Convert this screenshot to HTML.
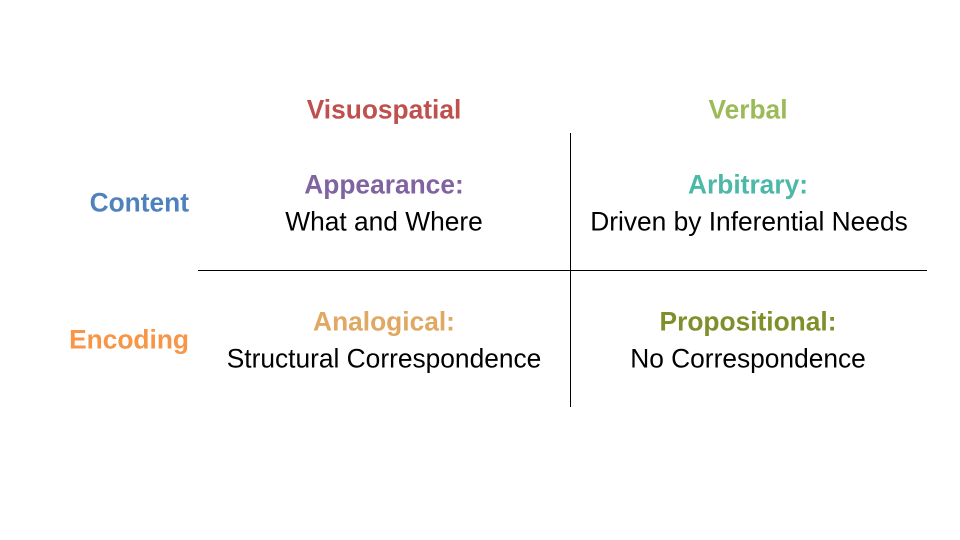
<!DOCTYPE html>
<html><head><meta charset="utf-8"><style>
body{margin:0;width:960px;height:540px;background:#fff;position:relative;overflow:hidden;font-family:"Liberation Sans",sans-serif;}
.t{position:absolute;white-space:nowrap;transform:translate(-50%,-50%) scaleX(0.975);font-size:27px;line-height:1;}
.b{font-weight:bold;}
.r{transform:translate(-100%,-50%) scaleX(0.975);transform-origin:100% 50%;}
.l{position:absolute;background:#000;}
</style></head><body>
<div class="t b" style="left:384px;top:110px;color:#C0504D">Visuospatial</div>
<div class="t b" style="left:748px;top:110px;color:#9BBB59">Verbal</div>
<div class="t b r" style="left:189px;top:203px;color:#4F81BD">Content</div>
<div class="t b r" style="left:189px;top:340px;color:#F79646">Encoding</div>
<div class="t b" style="left:384px;top:185px;color:#8064A2">Appearance:</div>
<div class="t" style="left:384px;top:222px;color:#000">What and Where</div>
<div class="t b" style="left:748px;top:185px;color:#4BB8A8">Arbitrary:</div>
<div class="t" style="left:749px;top:222px;color:#000">Driven by Inferential Needs</div>
<div class="t b" style="left:384px;top:322px;color:#E0A862">Analogical:</div>
<div class="t" style="left:384px;top:359px;color:#000">Structural Correspondence</div>
<div class="t b" style="left:748px;top:322px;color:#7F8F2A">Propositional:</div>
<div class="t" style="left:748px;top:359px;color:#000">No Correspondence</div>
<div class="l" style="left:570px;top:133px;width:1px;height:274px"></div>
<div class="l" style="left:198px;top:270px;width:729px;height:1px"></div>
</body></html>
